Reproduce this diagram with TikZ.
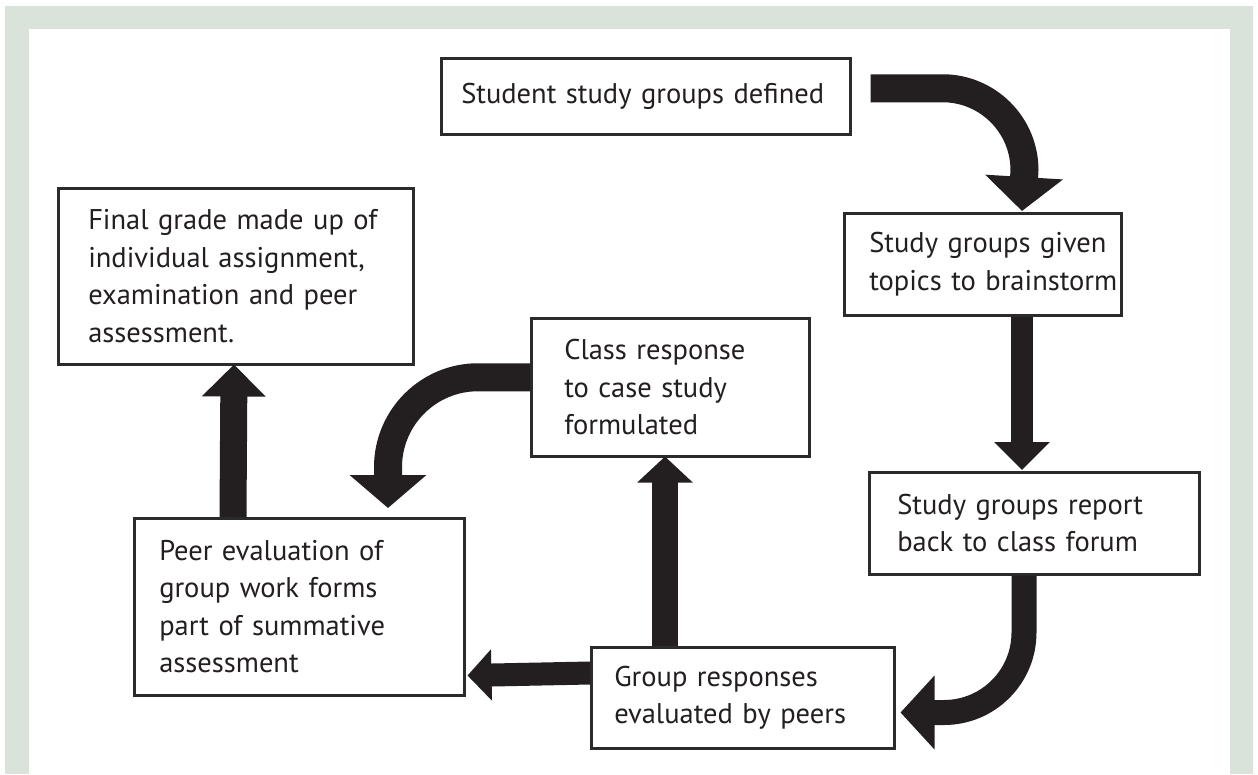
\documentclass[tikz,border=0pt]{standalone}
\usepackage{fontspec}
\setmainfont{PT Sans}
\usetikzlibrary{arrows.meta,calc}
\definecolor{frame}{HTML}{DAE3D9}
\definecolor{ink}{HTML}{231F20}
\definecolor{edge}{HTML}{2B2B2B}
\newcommand{\tl}[1]{\mbox{#1}}
\tikzset{
  box/.style={draw=edge, line width=2.5pt, fill=white, text=ink, anchor=north west,
    align=left, inner xsep=0pt, inner ysep=0pt,
    font=\fontsize{28.5}{37.5}\selectfont},
  blk/.style={draw=ink, line cap=butt, line join=round}
}
\begin{document}
\begin{tikzpicture}[x=1pt,y=1pt]
\useasboundingbox (0,0) rectangle (1258,-774);
\fill[white] (0,0) rectangle (1258,-774);
\fill[frame] (5,-6) rectangle (1253,-774);
\fill[white] (29,-29) rectangle (1230,-774);

% boxes
\node[box, minimum width=409pt, minimum height=76pt, text width=369pt] (b1) at (440,-57)
  {\tl{Student study groups defined}};
\node[box, minimum width=277pt, minimum height=102pt, text width=227pt] (b2) at (843,-212)
  {\tl{Study groups given}\\\tl{topics to brainstorm}};
\node[box, minimum width=330pt, minimum height=102pt, text width=274pt] (b3) at (868,-471)
  {\tl{Study groups report}\\\tl{back to class forum}};
\node[box, minimum width=303pt, minimum height=101pt, text width=257pt] (b4) at (590,-646)
  {\tl{Group responses}\\\tl{evaluated by peers}};
\node[box, minimum width=278pt, minimum height=138pt, text width=212pt] (b5) at (530,-317)
  {\tl{Class response}\\\tl{to case study}\\\tl{formulated}};
\node[box, minimum width=355pt, minimum height=176pt, text width=295pt] (b6) at (57,-187)
  {\tl{Final grade made up of}\\\tl{individual assignment,}\\\tl{examination and peer}\\\tl{assessment.}};
\node[box, minimum width=330pt, minimum height=177pt, text width=280pt] (b7) at (133,-517)
  {\tl{Peer evaluation of}\\\tl{group work forms}\\\tl{part of summative}\\\tl{assessment}};

% arrows
\draw[blk, line width=28pt, -{Triangle[width=76pt,length=34pt]}]
  ([xshift=19pt,yshift=8pt]b1.east) -- ++(72,0) arc[start angle=90,end angle=0,radius=82]
  -- ($(b2.north west)+(179,1)$);
\draw[blk, line width=22pt, -{Triangle[width=54pt,length=28pt]}]
  ($(b2.south west)+(179,0)$) -- ($(b3.north west)+(154,1)$);
\draw[blk, line width=25pt, -{Triangle[width=72pt,length=34pt]}]
  ($(b3.south west)+(156,0)$) -- ++(0,-57) arc[start angle=0,end angle=-90,radius=80]
  -- ($(b4.south east)+(5,37)$);
\draw[blk, line width=23pt, -{Triangle[width=50pt,length=24pt]}]
  ($(b4.north west)+(0,-27)$) -- ($(b7.south east)+(2,21)$);
\draw[blk, line width=26pt, -{Triangle[width=54pt,length=26pt]}]
  ($(b4.north west)+(75,0)$) -- ($(b5.south west)+(135,1)$);
\draw[blk, line width=28pt, -{Triangle[width=75pt,length=33pt]}]
  ($(b5.west)+(0,10)$) -- ++(-52,0) arc[start angle=90,end angle=180,radius=90]
  -- ($(b7.north west)+(255,9)$);
\draw[blk, line width=27pt, -{Triangle[width=62pt,length=32pt]}]
  ($(b7.north west)+(100,0)$) -- ($(b6.south west)+(177,1)$);
\end{tikzpicture}
\end{document}
